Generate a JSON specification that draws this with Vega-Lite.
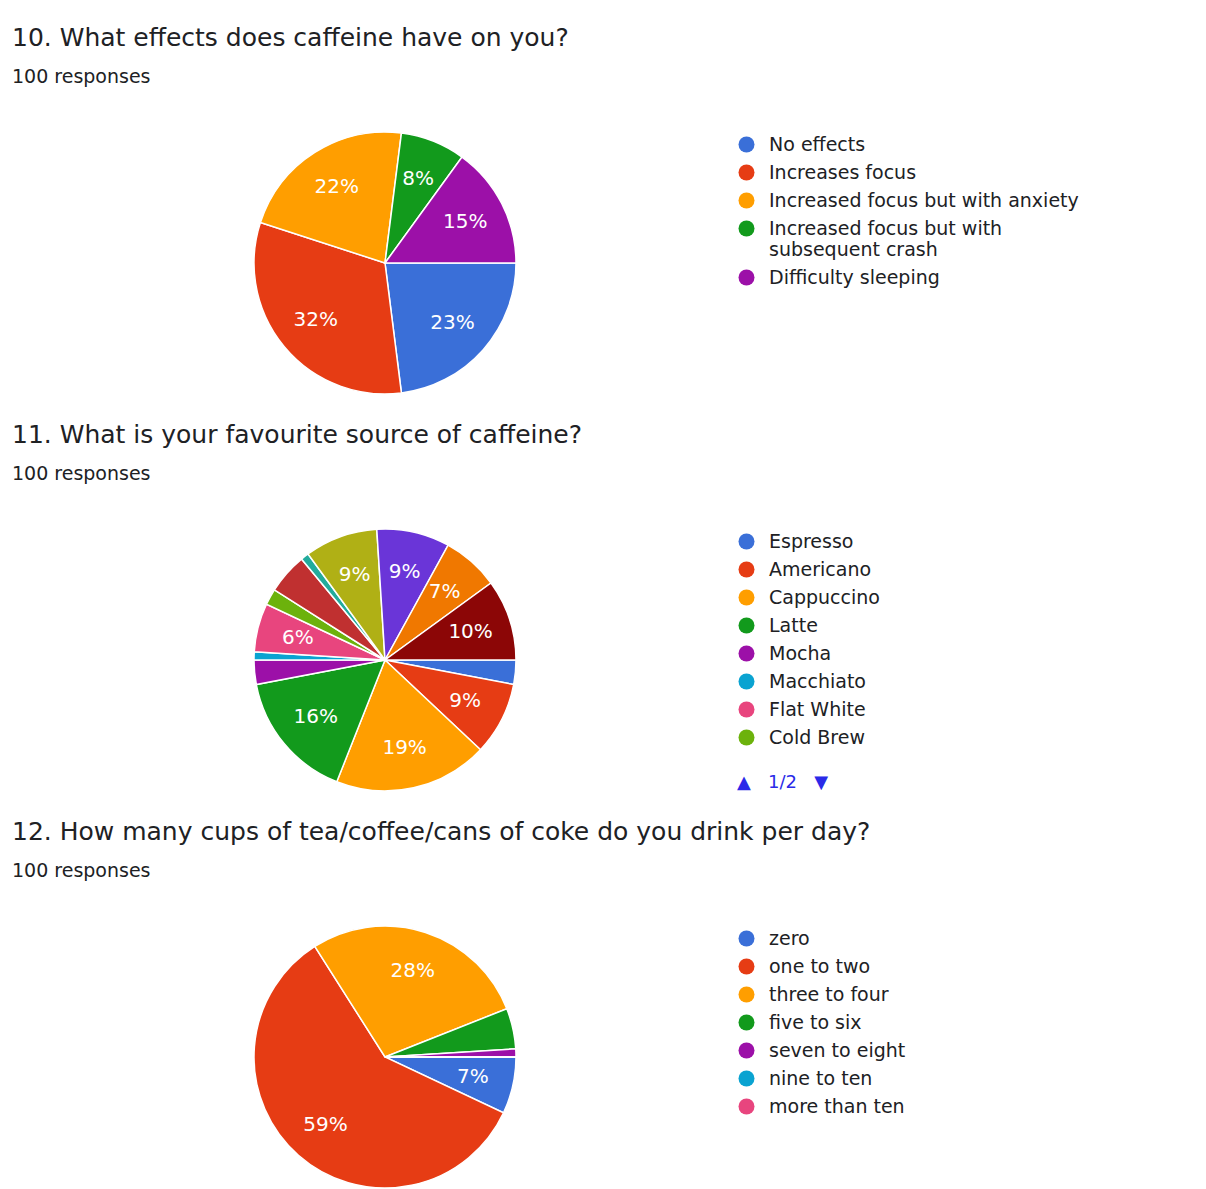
{
  "$schema": "https://vega.github.io/schema/vega-lite/v6.json",
  "background": "white",
  "padding": {"left": 12, "top": 26, "right": 0, "bottom": 0},
  "spacing": 15,
  "config": {
    "view": {"stroke": null},
    "font": "DejaVu Sans",
    "title": {"anchor": "start", "font": "DejaVu Sans", "fontSize": 25, "fontWeight": "normal", "color": "#202124", "subtitleFont": "DejaVu Sans", "subtitleFontSize": 19, "subtitleColor": "#202124", "subtitlePadding": 17, "offset": 31},
    "legend": {"orient": "none", "legendX": 725, "legendY": 17, "symbolType": "circle", "symbolSize": 256, "symbolStrokeWidth": 0, "labelFont": "DejaVu Sans", "labelFontSize": 19, "labelColor": "#202124", "labelOffset": 13, "rowPadding": 8, "labelLimit": 500, "gridAlign": "each", "title": null}
  },
  "resolve": {"scale": {"color": "independent", "theta": "independent"}, "legend": {"color": "independent"}},
  "vconcat": [
    {
      "title": {"text": "10. What effects does caffeine have on you?", "subtitle": "100 responses"},
      "width": 746, "height": 290,
      "data": {"values": [
        {"rank": 1, "answer": "No effects", "pct": 23},
        {"rank": 2, "answer": "Increases focus", "pct": 32},
        {"rank": 3, "answer": "Increased focus but with anxiety", "pct": 22},
        {"rank": 4, "answer": "Increased focus but with subsequent crash", "pct": 8},
        {"rank": 5, "answer": "Difficulty sleeping", "pct": 15}
      ]},
      "transform": [{"calculate": "datum.pct >= 6 ? datum.pct + '%' : ''", "as": "label"}],
      "encoding": {
        "theta": {"field": "pct", "type": "quantitative", "stack": true, "scale": {"range": [1.5708, 7.854]}},
        "order": {"field": "rank", "type": "quantitative"}
      },
      "layer": [
        {"mark": {"type": "arc", "outerRadius": 131, "stroke": "white", "strokeWidth": 1.5},
         "encoding": {"color": {"field": "answer", "type": "nominal",
           "scale": {"domain": ["No effects", "Increases focus", "Increased focus but with anxiety", "Increased focus but with subsequent crash", "Difficulty sleeping"],
                     "range": ["#3a6fd8", "#e63c14", "#ff9e00", "#129a1c", "#9c10a8"]},
           "legend": {"labelExpr": "datum.label == 'Increased focus but with subsequent crash' ? ['Increased focus but with', 'subsequent crash'] : datum.label"}}}},
        {"mark": {"type": "text", "radius": 90, "fill": "white", "fontSize": 20, "font": "DejaVu Sans"},
         "encoding": {"text": {"field": "label", "type": "nominal"}}}
      ]
    },
    {
      "title": {"text": "11. What is your favourite source of caffeine?", "subtitle": "100 responses"},
      "width": 746, "height": 290,
      "data": {"values": [
        {"rank": 1, "answer": "Espresso", "pct": 3},
        {"rank": 2, "answer": "Americano", "pct": 9},
        {"rank": 3, "answer": "Cappuccino", "pct": 19},
        {"rank": 4, "answer": "Latte", "pct": 16},
        {"rank": 5, "answer": "Mocha", "pct": 3},
        {"rank": 6, "answer": "Macchiato", "pct": 1},
        {"rank": 7, "answer": "Flat White", "pct": 6},
        {"rank": 8, "answer": "Cold Brew", "pct": 2},
        {"rank": 9, "answer": "Option 9", "pct": 5},
        {"rank": 10, "answer": "Option 10", "pct": 1},
        {"rank": 11, "answer": "Option 11", "pct": 9},
        {"rank": 12, "answer": "Option 12", "pct": 9},
        {"rank": 13, "answer": "Option 13", "pct": 7},
        {"rank": 14, "answer": "Option 14", "pct": 10}
      ]},
      "transform": [{"calculate": "datum.pct >= 6 ? datum.pct + '%' : ''", "as": "label"}],
      "encoding": {
        "theta": {"field": "pct", "type": "quantitative", "stack": true, "scale": {"range": [1.5708, 7.854]}},
        "order": {"field": "rank", "type": "quantitative"}
      },
      "layer": [
        {"mark": {"type": "arc", "outerRadius": 131, "stroke": "white", "strokeWidth": 1.5},
         "encoding": {"color": {"field": "answer", "type": "nominal",
           "scale": {"domain": ["Espresso", "Americano", "Cappuccino", "Latte", "Mocha", "Macchiato", "Flat White", "Cold Brew", "Option 9", "Option 10", "Option 11", "Option 12", "Option 13", "Option 14"],
                     "range": ["#3a6fd8", "#e63c14", "#ff9e00", "#129a1c", "#9c10a8", "#0aa3d1", "#e8457e", "#6cb20c", "#c03030", "#22ab9c", "#b0b015", "#6a35d8", "#f07800", "#8c0606"]},
           "legend": {"values": ["Espresso", "Americano", "Cappuccino", "Latte", "Mocha", "Macchiato", "Flat White", "Cold Brew"],
                      "title": "▲\u00a0\u00a0\u00a01/2\u00a0\u00a0\u00a0▼", "titleOrient": "bottom", "titleAnchor": "start", "titlePadding": 26, "titleColor": "#2a2ae8", "titleFontSize": 18, "titleFontWeight": "normal", "titleFont": "DejaVu Sans"}}}},
        {"mark": {"type": "text", "radius": 90, "fill": "white", "fontSize": 20, "font": "DejaVu Sans"},
         "encoding": {"text": {"field": "label", "type": "nominal"}}}
      ]
    },
    {
      "title": {"text": "12. How many cups of tea/coffee/cans of coke do you drink per day?", "subtitle": "100 responses"},
      "width": 746, "height": 290,
      "data": {"values": [
        {"rank": 1, "answer": "zero", "pct": 7},
        {"rank": 2, "answer": "one to two", "pct": 59},
        {"rank": 3, "answer": "three to four", "pct": 28},
        {"rank": 4, "answer": "five to six", "pct": 5},
        {"rank": 5, "answer": "seven to eight", "pct": 1},
        {"rank": 6, "answer": "nine to ten", "pct": 0},
        {"rank": 7, "answer": "more than ten", "pct": 0}
      ]},
      "transform": [{"calculate": "datum.pct >= 6 ? datum.pct + '%' : ''", "as": "label"}],
      "encoding": {
        "theta": {"field": "pct", "type": "quantitative", "stack": true, "scale": {"range": [1.5708, 7.854]}},
        "order": {"field": "rank", "type": "quantitative"}
      },
      "layer": [
        {"mark": {"type": "arc", "outerRadius": 131, "stroke": "white", "strokeWidth": 1.5},
         "encoding": {"color": {"field": "answer", "type": "nominal",
           "scale": {"domain": ["zero", "one to two", "three to four", "five to six", "seven to eight", "nine to ten", "more than ten"],
                     "range": ["#3a6fd8", "#e63c14", "#ff9e00", "#129a1c", "#9c10a8", "#0aa3d1", "#e8457e"]}}}},
        {"mark": {"type": "text", "radius": 90, "fill": "white", "fontSize": 20, "font": "DejaVu Sans"},
         "encoding": {"text": {"field": "label", "type": "nominal"}}}
      ]
    }
  ]
}
